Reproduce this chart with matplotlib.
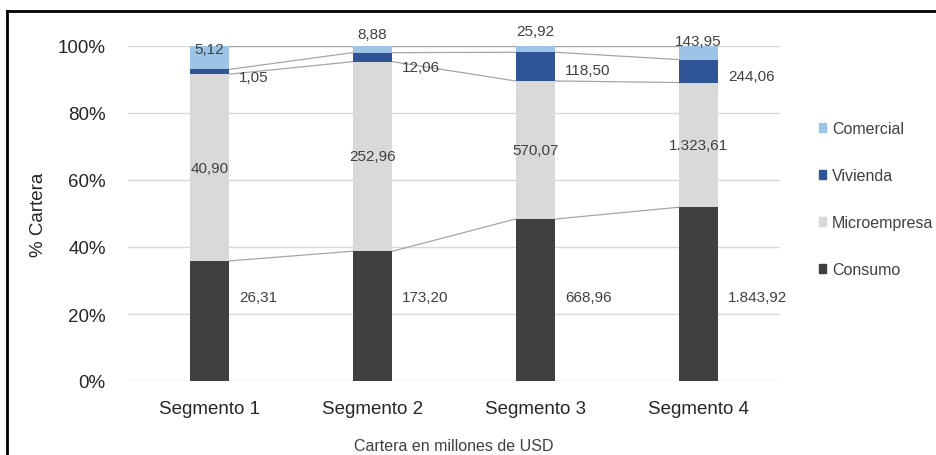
import numpy as np
import matplotlib.pyplot as plt
from matplotlib.lines import Line2D
from matplotlib.patches import Patch

plt.rcParams['font.family'] = ['Liberation Sans', 'DejaVu Sans']

segmentos = ['Segmento 1', 'Segmento 2', 'Segmento 3', 'Segmento 4']
consumo = [26.31, 173.20, 668.96, 1843.92]
microempresa = [40.90, 252.96, 570.07, 1323.61]
vivienda = [1.05, 12.06, 118.50, 244.06]
comercial = [5.12, 8.88, 25.92, 143.95]

series = [
    ('Consumo', consumo, '#404040'),
    ('Microempresa', microempresa, '#d9d9d9'),
    ('Vivienda', vivienda, '#2f5597'),
    ('Comercial', comercial, '#9dc3e6'),
]


def fmt(v):
    # formato con punto de miles y coma decimal
    s = f"{v:,.2f}"
    return s.replace(',', 'X').replace('.', ',').replace('X', '.')


vals = np.array([s[1] for s in series])
pct = vals / vals.sum(axis=0) * 100
bottoms = np.vstack([np.zeros(vals.shape[1]), np.cumsum(pct, axis=0)[:-1]])
tops = bottoms + pct

fig = plt.figure(figsize=(9.37, 4.56), dpi=100)
ax = fig.add_axes([128 / 937, 1 - 382 / 456, 652 / 937, 335 / 456])

x = np.arange(len(segmentos))
w = 0.245
for i, (name, v, color) in enumerate(series):
    ax.bar(x, pct[i], w, bottom=bottoms[i], color=color, zorder=3)

# lineas de serie entre barras
for i in range(len(series)):
    for j in range(len(x) - 1):
        ax.plot([x[j] + w / 2, x[j + 1] - w / 2], [tops[i, j], tops[i, j + 1]],
                color='#a6a6a6', lw=0.9, zorder=2)

lbl = dict(fontsize=11, color='#404040', zorder=4)
viv_dy = [-1.5, -3, -1, -1.5]
for j in range(len(x)):
    # consumo a la derecha de la barra
    ax.text(x[j] + w / 2 + 0.06, 25, fmt(consumo[j]), ha='left', va='center', **lbl)
    # microempresa centrado
    ax.text(x[j], (bottoms[1, j] + tops[1, j]) / 2, fmt(microempresa[j]),
            ha='center', va='center', **lbl)
    # vivienda a la derecha
    ax.text(x[j] + w / 2 + 0.06, (bottoms[2, j] + tops[2, j]) / 2 + viv_dy[j],
            fmt(vivienda[j]), ha='left', va='center', **lbl)

com_y = [99, 103.5, 104.5, 101.5]
for j in range(len(x)):
    ax.text(x[j], com_y[j], fmt(comercial[j]), ha='center', va='center', **lbl)

ax.set_xlim(-0.5, 3.5)
ax.set_ylim(0, 100)
ax.set_yticks(np.arange(0, 101, 20))
ax.set_yticklabels([f'{t}%' for t in range(0, 101, 20)], fontsize=13.5, color='#262626')
ax.set_xticks(x)
ax.set_xticklabels(segmentos, fontsize=13.5, color='#262626')
ax.tick_params(length=0, pad=16)
ax.tick_params(axis='x', pad=14)
ax.grid(axis='y', color='#d9d9d9', lw=1, zorder=0)
for s in ax.spines.values():
    s.set_visible(False)
ax.set_ylabel('% Cartera', fontsize=13.5, color='#262626', labelpad=8)
ax.set_xlabel('Cartera en millones de USD', fontsize=11.5, color='#404040', labelpad=15)

handles = [Patch(color=c, label=n) for n, _, c in reversed(series)]
fig.legend(handles=handles, loc='center left', bbox_to_anchor=(811 / 937, 1 - 200 / 456),
           frameon=False, fontsize=11.5, handlelength=0.45, handleheight=0.45,
           handletextpad=0.35, labelspacing=2.0, labelcolor='#404040', borderpad=0)

# marco
fig.add_artist(Line2D([7 / 937, 1], [1 - 12 / 456] * 2, color='black', lw=2))
fig.add_artist(Line2D([7 / 937] * 2, [0, 1 - 12 / 456], color='black', lw=2))

fig.savefig('out.png', dpi=100)
